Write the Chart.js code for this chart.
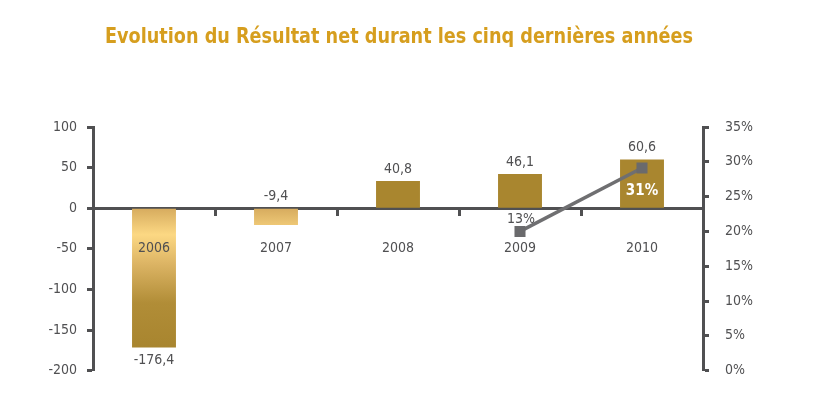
<!DOCTYPE html>
<html>
<head>
<meta charset="utf-8">
<script src="https://cdn.jsdelivr.net/npm/chart.js@4"></script>
<style>
  body { margin: 0; background: #fff; }
  #wrap { width: 834px; height: 395px; position: relative; }
</style>
</head>
<body>
<div id="wrap"><canvas id="chart"></canvas></div>
<script>
// Data
const years = ['2006', '2007', '2008', '2009', '2010']
const resultat = [-171.5, -20.8, 33.4, 42.0, 60.0]
const resultatLabels = ['-176,4', '-9,4', '40,8', '46,1', '60,6']
const marge = [null, null, null, 20.0, 29.1]
const margeLabels = [null, null, null, '13%', '31%']
const leftTicks = { min: -200, max: 100, step: 50 }
const rightTicks = { min: 0, max: 35, step: 5 }
const titleText = 'Evolution du Résultat net durant les cinq dernières années'

const FONT = '"DejaVu Sans Condensed", "Liberation Sans Narrow", sans-serif'
const grey = '#505052'
const gold = '#a9862f'

// negative bars share one gradient anchored at zero
const barFill = c => {
    const chart = c.chart
    const ys = chart.scales.y
    if (!chart.chartArea || !ys || resultat[c.dataIndex] >= 0) return gold
    const y0 = ys.getPixelForValue(0)
    const y1 = ys.getPixelForValue(Math.min(...resultat))
    const g = chart.ctx.createLinearGradient(0, y0, 0, y1)
    g.addColorStop(0, '#d6ab5e')
    g.addColorStop(0.19, '#fcd883')
    g.addColorStop(0.4, '#dcb464')
    g.addColorStop(0.68, '#b18d37')
    g.addColorStop(1, '#a8852f')
    return g
}

const titlePlugin = {
    id: 'titleText',
    afterDraw(chart) {
        const ctx = chart.ctx
        ctx.save()
        ctx.font = 'bold 21px ' + FONT
        ctx.fillStyle = '#d69e1e'
        ctx.textAlign = 'left'
        ctx.textBaseline = 'alphabetic'
        ctx.fillText(titleText, 105, 43, 588)
        ctx.restore()
    }
}

const valueLabels = {
    id: 'valueLabels',
    afterDatasetsDraw(chart) {
        const ctx = chart.ctx
        const xs = chart.scales.x
        const zero = chart.scales.y.getPixelForValue(0)
        const bars = chart.getDatasetMeta(1).data
        ctx.save()
        ctx.textAlign = 'center'
        ctx.textBaseline = 'middle'
        ctx.font = '14px ' + FONT
        ctx.fillStyle = grey
        // year labels sit under the zero line, over the bars
        years.forEach((yr, i) => {
            ctx.fillText(yr, xs.getPixelForValue(i), zero + 40)
        })
        bars.forEach((bar, i) => {
            let ty
            if (resultat[i] >= 0) ty = bar.y - 12
            else if (bar.y - zero < 30) ty = zero - 12
            else ty = bar.y + 13
            ctx.fillText(resultatLabels[i], bar.x, ty)
        })
        // percentage labels on the line
        chart.getDatasetMeta(0).data.forEach((pt, i) => {
            if (!margeLabels[i]) return
            const bar = bars[i]
            const top = Math.min(bar.y, bar.base), bottom = Math.max(bar.y, bar.base)
            const inside = pt.y > top && pt.y < bottom
            if (inside) {
                ctx.font = 'bold 15px ' + FONT
                ctx.fillStyle = '#ffffff'
                ctx.fillText(margeLabels[i], pt.x, pt.y + 23)
            } else {
                ctx.font = '14px ' + FONT
                ctx.fillStyle = grey
                ctx.fillText(margeLabels[i], pt.x + 1, pt.y - 12)
            }
        })
        ctx.restore()
    }
}

const cfChart = {
    data: {
        labels: years,
        datasets: [
            {
                type: 'line',
                data: marge,
                yAxisID: 'y1',
                order: 0,
                borderColor: '#6f6f71',
                borderWidth: 3.5,
                pointStyle: 'rect',
                pointRadius: 7.8,
                pointBorderWidth: 0,
                pointBackgroundColor: '#6a6a6c',
                spanGaps: false,
            },
            {
                type: 'bar',
                data: resultat,
                yAxisID: 'y',
                order: 1,
                backgroundColor: barFill,
                barPercentage: 0.9,
                categoryPercentage: 0.4,
            },
        ],
    },
    options: {
        responsive: true,
        maintainAspectRatio: false,
        animation: false,
        layout: { padding: { top: 127, bottom: 23, left: 0, right: 0 } },
        plugins: { legend: { display: false }, tooltip: { enabled: false } },
        scales: {
            x: {
                type: 'category',
                position: { y: 0 },
                offset: true,
                grid: { offset: true, drawOnChartArea: false, drawTicks: true, tickLength: 6, tickWidth: 3, tickColor: grey },
                border: { color: grey, width: 3 },
                ticks: { display: false },
            },
            y: {
                position: 'left',
                min: leftTicks.min,
                max: leftTicks.max,
                afterFit: s => { s.width = 93 },
                grid: { drawOnChartArea: false, tickLength: 6, tickWidth: 3, tickColor: grey },
                border: { color: grey, width: 3 },
                ticks: { stepSize: leftTicks.step, color: grey, font: { family: FONT, size: 14 }, padding: 10 },
            },
            y1: {
                position: 'right',
                min: rightTicks.min,
                max: rightTicks.max,
                afterFit: s => { s.width = 131 },
                grid: { drawOnChartArea: false, tickLength: 6, tickWidth: 3, tickColor: grey },
                border: { color: grey, width: 3 },
                ticks: { stepSize: rightTicks.step, color: grey, font: { family: FONT, size: 14 }, padding: 16, callback: v => v + '%' },
            },
        },
    },
    plugins: [titlePlugin, valueLabels],
}

const ctx = document.getElementById('chart').getContext('2d')
new Chart(ctx, cfChart)
</script>
</body>
</html>
